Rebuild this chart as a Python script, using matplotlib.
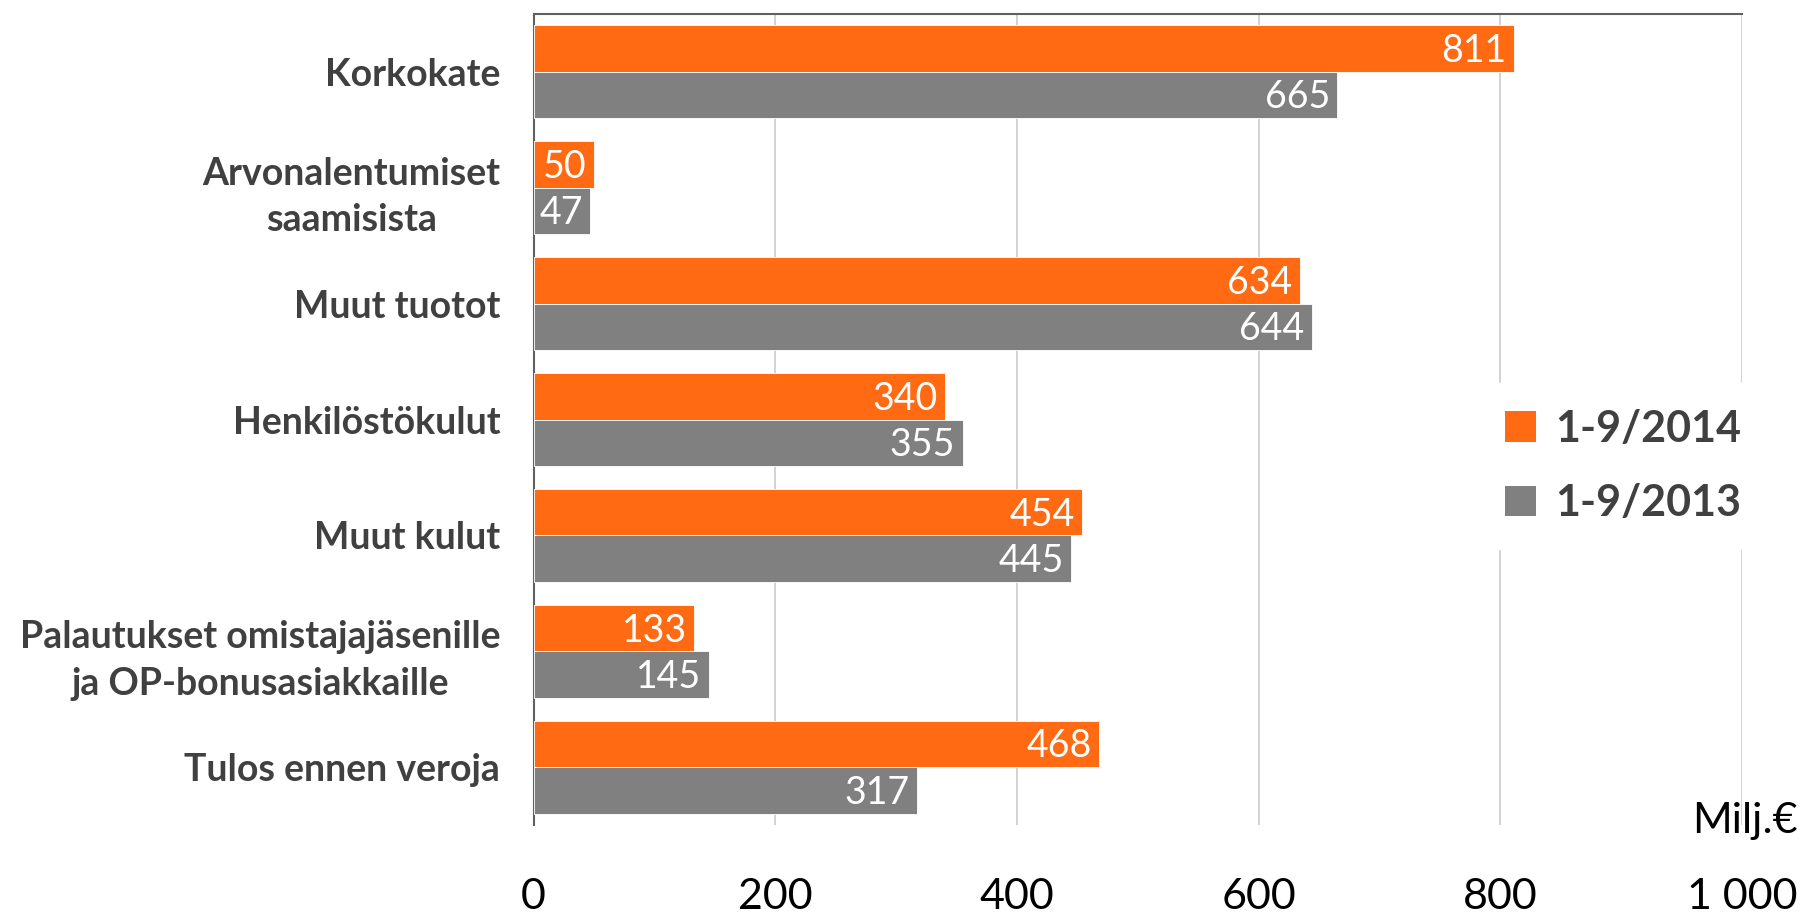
import matplotlib
matplotlib.use("Agg")
import matplotlib.pyplot as plt
import numpy as np
from matplotlib.patches import Patch

categories = ["Korkokate", "Arvonalentumiset\nsaamisista", "Muut tuotot", "Henkilöstökulut",
              "Muut kulut", "Palautukset omistajajäsenille\nja OP-bonusasiakkaille", "Tulos ennen veroja"]
values_2014 = [811, 50, 634, 340, 454, 133, 468]
values_2013 = [665, 47, 644, 355, 445, 145, 317]
series_names = ["1-9/2014", "1-9/2013"]
xticks = [0, 200, 400, 600, 800, 1000]
xtick_labels = ["0", "200", "400", "600", "800", "1 000"]

ORANGE = "#FF6A13"
GRAY = "#808080"
FONT = "Lato"

fig = plt.figure(figsize=(18.09, 9.15), dpi=100)
ax = fig.add_axes([0.295, 0.098, 0.668, 0.887])

y = np.arange(len(categories))
h = 0.4
b1 = ax.barh(y - h / 2, values_2014, height=h, color=ORANGE, edgecolor="white", linewidth=0.6, zorder=3)
b2 = ax.barh(y + h / 2, values_2013, height=h, color=GRAY, edgecolor="white", linewidth=0.6, zorder=3)

for bars, vals in ((b1, values_2014), (b2, values_2013)):
    for rect, v in zip(bars, vals):
        ax.text(v - 6, rect.get_y() + rect.get_height() / 2 + 0.02, str(v), ha="right", va="center",
                color="white", fontsize=27, family=FONT, zorder=4)

ax.set_ylim(len(categories) - 0.5, -0.5)
ax.set_xlim(0, 1000)
ax.set_yticks(y)
ax.set_yticklabels(categories, fontsize=27, fontweight="bold", color="#404040", family=FONT,
                   ha="right", multialignment="center", linespacing=1.45)
ax.tick_params(axis="y", length=0, pad=24)
ax.set_xticks(xticks)
ax.set_xticklabels(xtick_labels, fontsize=31, family=FONT, color="black")
ax.tick_params(axis="x", length=0, pad=38)

ax.grid(axis="x", color="#D0D0D0", linewidth=1.3, zorder=0)
ax.set_axisbelow(True)
for s in ("right", "bottom"):
    ax.spines[s].set_visible(False)
for s in ("left", "top"):
    ax.spines[s].set_color("#606060")
    ax.spines[s].set_linewidth(1.5)

ax.text(1.002, 0.005, "Milj.€", transform=ax.transAxes, ha="center", va="center",
        fontsize=31, family=FONT, color="black")

handles = [Patch(facecolor=ORANGE), Patch(facecolor=GRAY)]
leg = ax.legend(handles, series_names, loc="center left", bbox_to_anchor=(0.765, 0.443),
                frameon=True, fancybox=False, edgecolor="white", framealpha=1,
                prop={"family": FONT, "weight": "bold", "size": 31},
                labelcolor="#404040", handlelength=0.7, handleheight=0.7, handletextpad=0.45,
                labelspacing=0.8, borderpad=0.6)

fig.savefig("out.png", dpi=100)
